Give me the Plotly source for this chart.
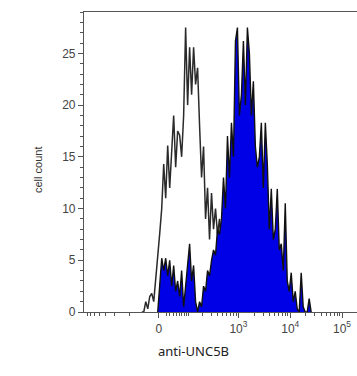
import numpy as np
import plotly.graph_objects as go

# ---- data (histogram channels on a biexponential display scale) ----
control_channels = list(range(29, 78))
control_counts = [0, 0, 1, 0.3, 1.5, 1.8, 1, 3, 5.3, 7.6,
                  10, 14.3, 11, 16.1, 12, 15, 19, 14, 17.5, 17.1,
                  15, 19, 27.5, 20, 25.6, 21, 25.6, 22, 23.6, 18,
                  13, 16, 9, 12, 7, 11.5, 8, 10, 7.5, 9,
                  6, 8, 5, 6, 3, 4, 2, 1, 0]

sample_channels = list(range(37, 115))
sample_counts = [0, 3, 5.2, 4, 5.2, 3.5, 5, 2.5, 4.5, 2,
                 3, 1.5, 4, 0.5, 2.5, 4, 6.6, 3, 4.5, 1,
                 0, 1, 0.5, 2.5, 2, 4, 3.5, 5, 6, 5.5,
                 8, 7.5, 9, 13, 10, 17, 13, 18.3, 15, 26.2,
                 27.5, 19, 21, 26.2, 20, 27.5, 25, 19, 22.3, 16,
                 14, 15, 18.3, 12, 18.3, 14.3, 8, 11.9, 7, 8,
                 11.9, 6, 6.6, 4, 10.5, 3, 2, 3.8, 1, 2,
                 0.3, 0, 3.8, 0.5, 0, 0, 1.3, 0]

x_tick_values = [0, 1e3, 1e4, 1e5]
x_tick_text = ["0", "10<sup>3</sup>", "10<sup>4</sup>", "10<sup>5</sup>"]

# biexponential-like display transform (asinh)
ZERO_CH, K, W = 37.5, 11.29, 57.9
def to_channel(v):
    return ZERO_CH + K * np.arcsinh(np.asarray(v, dtype=float) / W)

minor_vals = []
for d in [10, 100, 1000, 10000]:
    for m in range(2, 10):
        minor_vals.append(m * d)
minor_vals += [100, -100, -200, -300, -400, -500, -600, -700]
minor_pos = [float(p) for p in to_channel(minor_vals) if 0 < p < 137]

fig = go.Figure()
fig.add_trace(go.Scatter(
    x=control_channels, y=control_counts, mode="lines",
    line=dict(color="#2a2a2a", width=1.5), fill="tozeroy",
    fillcolor="rgba(255,255,255,1)", hoverinfo="skip", showlegend=False))
fig.add_trace(go.Scatter(
    x=sample_channels, y=sample_counts, mode="lines",
    line=dict(color="#111111", width=1.4), fill="tozeroy",
    fillcolor="#0000E6", hoverinfo="skip", showlegend=False))

axis_col = "#555555"
fig.update_layout(
    width=357, height=376,
    margin=dict(l=84, r=0, t=12, b=64),
    paper_bgcolor="white", plot_bgcolor="white",
    font=dict(family="Liberation Sans, Arial, sans-serif", size=12, color="#444444"),
    xaxis=dict(
        range=[0, 137], showgrid=False, zeroline=False, automargin=False,
        showline=True, linecolor=axis_col, linewidth=1.2, mirror=True,
        tickmode="array", tickvals=[float(v) for v in to_channel(x_tick_values)],
        ticktext=x_tick_text, ticks="outside", ticklen=5, tickcolor=axis_col,
        tickfont=dict(size=12, color="#444444"),
        minor=dict(tickvals=minor_pos, ticks="outside", ticklen=3, tickcolor=axis_col),
    ),
    yaxis=dict(
        range=[0, 29], showgrid=False, zeroline=False, automargin=False,
        showline=True, linecolor=axis_col, linewidth=1.2, mirror=False,
        tickmode="array", tickvals=[0, 5, 10, 15, 20, 25],
        ticks="outside", ticklen=5, tickcolor=axis_col,
        tickfont=dict(size=12, color="#444444"),
        minor=dict(dtick=1, ticks="outside", ticklen=3, tickcolor=axis_col),
    ),
    annotations=[
        dict(text="cell count", xref="paper", yref="paper",
             x=(38 - 84) / 273, y=(312 - 170) / 300, textangle=-90,
             xanchor="center", yanchor="middle",
             showarrow=False, font=dict(size=11, color="#333333")),
        dict(text="anti-UNC5B", xref="paper", yref="paper",
             x=(193 - 84) / 273, y=(312 - 351) / 300,
             xanchor="center", yanchor="middle",
             showarrow=False, font=dict(family="Noto Sans, Open Sans, sans-serif",
                                        size=13, color="#222222")),
    ],
)

fig.write_html("out.html", config={"displayModeBar": False},
               post_script="document.body.style.margin='0px';document.body.style.overflow='hidden';")
